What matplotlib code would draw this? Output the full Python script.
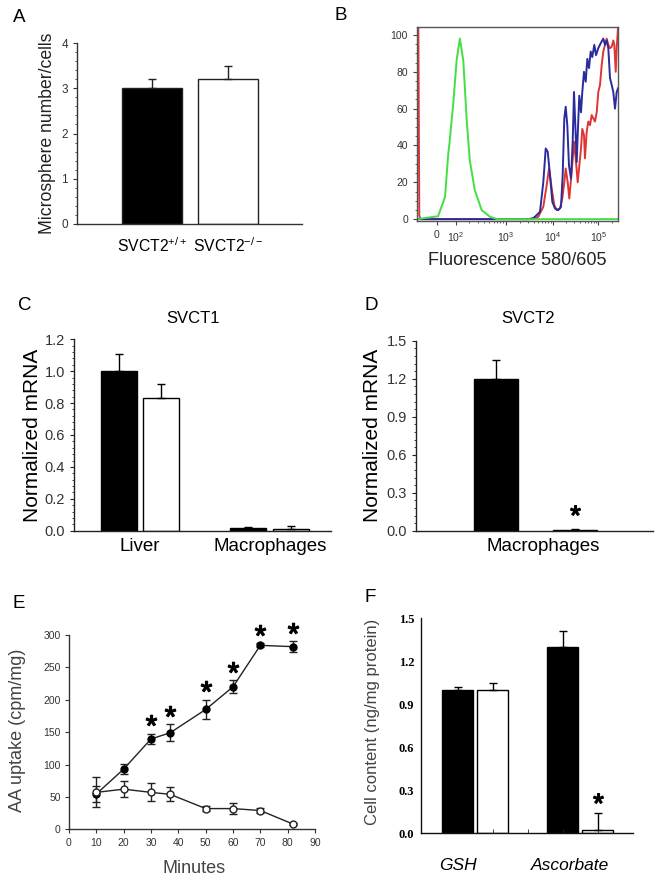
import numpy as np
import matplotlib
matplotlib.use('Agg')
import matplotlib.pyplot as plt
from matplotlib.ticker import AutoMinorLocator, FixedLocator, MultipleLocator

plt.rcParams['font.family'] = ['Liberation Sans', 'DejaVu Sans']
plt.rcParams['mathtext.default'] = 'regular'

# ---------------- data ----------------
# A
genotypes = ['SVCT2$^{+/+}$', 'SVCT2$^{-/-}$']
a_vals = [3.0, 3.2]
a_err = [0.2, 0.3]

# B  (flow histograms, fluorescence vs % max)
green_x = [-107, 5, 38, 54.8, 61, 83, 104, 125, 150, 177.6, 206, 260, 355, 510, 700, 262144]
green_y = [0, 1.6, 12, 35.7, 41, 63, 86.4, 98, 86, 54, 32, 15.8, 4.9, 1.3, 0, 0]
blue_x = [-107, 3000, 3800, 4217, 5383, 6324, 7112, 7834, 8770, 9817, 11230, 13270, 15210,
          16560, 17960, 19280, 20900, 22760, 25180, 27450, 29310, 31940, 33590, 35320, 38290,
          41760, 44570, 48550, 52950, 57410, 62520, 68100, 73810, 81660, 89110, 100000, 112450,
          127700, 138700, 150800, 163100, 177400, 192700, 208400, 226400, 246000, 262144]
blue_y = [0, 0, 0.5, 1.3, 4, 20, 38.4, 36.6, 24, 9.4, 5.8, 4.9, 6.7, 24, 54.7, 61, 51, 29, 22,
          42, 69, 45.6, 31, 45.6, 67, 58, 69, 80, 74.6, 87, 82, 91, 88, 94.6, 89, 92.8, 95.5, 98,
          94.6, 97, 92.8, 76.5, 72.8, 69, 60, 69, 71]
red_x = [-107, -98, -92, -85, 4000, 4955, 6324, 7464, 8350, 9528, 10840, 12240, 14450, 16240,
         17960, 19280, 21330, 23120, 26100, 29310, 31940, 35320, 38290, 41760, 44570, 48550,
         51000, 55670, 60370, 65770, 71620, 77680, 84690, 92230, 100000, 108700, 118100, 127700,
         138700, 150800, 163100, 177400, 192700, 208400, 218800, 234400, 246000, 262144]
red_y = [110, 105, 2, 0, 0, 1.3, 6.7, 18.5, 27.5, 16.7, 7.6, 4.9, 5.8, 11.2, 20, 27.5, 20, 11.2,
         25.7, 42, 33, 20, 29, 38.4, 49, 45.6, 33, 47.5, 53, 51, 56.5, 54.7, 53, 58, 69, 72.8,
         83.7, 91, 94.6, 98, 94.6, 92.8, 93.6, 97, 94.6, 80, 92.8, 104]
b_ticks = [0, 100, 1000, 10000, 100000]
b_ticklabels = ['0', '10$^2$', '10$^3$', '10$^4$', '10$^5$']

# C
c_groups = ['Liver', 'Macrophages']
c_wt = [1.0, 0.02]
c_ko = [0.83, 0.01]
c_wt_err = [0.11, 0.005]
c_ko_err = [0.09, 0.02]

# D
d_group = ['Macrophages']
d_vals = [1.2, 0.005]
d_err = [0.15, 0.006]

# E
minutes = [10, 20, 30, 37, 50, 60, 70, 82]
e_wt = [54.5, 93, 139.5, 149, 185, 220, 284, 282]
e_wt_err = [12, 8, 8, 13, 15, 10, 3, 8]
e_ko = [57, 62, 57, 54, 32, 32, 29, 8]
e_ko_err = [23, 12, 14, 11, 4, 8, 4, 2]
e_sig = [False, False, True, True, True, True, True, True]

# F
f_cats = ['GSH', 'Ascorbate']
f_wt = [1.0, 1.30]
f_ko = [1.0, 0.02]
f_wt_err = [0.02, 0.11]
f_ko_err = [0.05, 0.12]

# ---------------- figure ----------------
W, H = 662, 883
fig = plt.figure(figsize=(W / 100, H / 100), dpi=100)


def axpx(l, t, r, b):
    return fig.add_axes([l / W, 1 - b / H, (r - l) / W, (b - t) / H])


def simple_spines(ax, color='#222'):
    ax.spines['top'].set_visible(False)
    ax.spines['right'].set_visible(False)
    for s in ('left', 'bottom'):
        ax.spines[s].set_color(color)
        ax.spines[s].set_linewidth(1)


def letter(x, y, s):
    fig.text(x / W, 1 - y / H, s, fontsize=13.5, ha='left', va='center')


STAR = dict(marker='$*$', color='black', ls='none', clip_on=False)

# ---------- A ----------
axA = axpx(77, 43, 302, 224)
xa = np.arange(len(a_vals))
axA.bar(xa, a_vals, width=0.79, color=['black', 'white'], edgecolor='#222', linewidth=1)
axA.errorbar(xa, a_vals, yerr=[np.zeros(len(a_err)), a_err], fmt='none', ecolor='#222',
             elinewidth=1, capsize=3)
axA.set_xlim(-0.99, 1.97)
axA.set_ylim(0, 4)
simple_spines(axA, '#333')
axA.set_xticks(xa, genotypes, fontsize=11.3)
axA.tick_params(axis='x', length=0, pad=9)
axA.set_yticks([0, 1, 2, 3, 4])
axA.yaxis.set_minor_locator(AutoMinorLocator(5))
axA.tick_params(axis='y', labelsize=8.5, labelcolor='#333', length=3, color='#333')
axA.tick_params(axis='y', which='minor', length=1.5, color='#333')
axA.set_ylabel('Microsphere number/cells', fontsize=12.7, color='#222', va='center')
axA.yaxis.set_label_coords(-0.133, 0.5)
letter(13, 17, 'A')

# ---------- B ----------
_anch = np.array([-1e4, -107, 0, 100, 1e3, 1e4, 1e5, 262144, 1e7])
_U = np.arcsinh(_anch / 100)
_P = np.array([323, 417, 437, 456, 505.5, 552.7, 598.3, 618, 692], dtype=float)


def _fwd(x):
    return np.interp(np.arcsinh(np.asarray(x, dtype=float) / 100), _U, _P)


def _inv(p):
    return 100 * np.sinh(np.interp(np.asarray(p, dtype=float), _P, _U))


axB = axpx(417, 27, 618, 221)
axB.set_xscale('function', functions=(_fwd, _inv))
axB.plot(red_x, red_y, color='#e03535', lw=1.4)
axB.plot(blue_x, blue_y, color='#2b2b9e', lw=1.4)
axB.plot(green_x, green_y, color='#44dd44', lw=1.4)
axB.set_xlim(-107, 262144)
axB.set_ylim(-1, 104.3)
for s in axB.spines.values():
    s.set_color('#555')
    s.set_linewidth(1)
axB.set_xticks(b_ticks, b_ticklabels)
minor_b = [k * 10 ** n for n in (2, 3, 4) for k in range(2, 10)] + [200000]
axB.xaxis.set_minor_locator(FixedLocator(minor_b))
axB.set_yticks([0, 20, 40, 60, 80, 100])
axB.yaxis.set_minor_locator(MultipleLocator(5))
axB.tick_params(axis='both', labelsize=7.5, labelcolor='#333', length=3, color='#444', width=0.8)
axB.tick_params(axis='both', which='minor', length=1.5, color='#444')
axB.set_xlabel('Fluorescence 580/605', fontsize=13, color='#222', labelpad=6)
letter(334, 15, 'B')

# ---------- C ----------
axC = axpx(74, 339.3, 331, 530.7)
xc = np.arange(len(c_groups))
off, bw = 0.165, 0.277
axC.bar(xc - off, c_wt, width=bw, color='black', edgecolor='black', linewidth=1)
axC.bar(xc + off, c_ko, width=bw, color='white', edgecolor='black', linewidth=1)
axC.errorbar(xc - off, c_wt, yerr=[np.zeros(2), c_wt_err], fmt='none', ecolor='black',
             elinewidth=1, capsize=3)
axC.errorbar(xc + off, c_ko, yerr=[np.zeros(2), c_ko_err], fmt='none', ecolor='black',
             elinewidth=1, capsize=3)
axC.set_xlim(-0.508, 1.47)
axC.set_ylim(0, 1.2)
simple_spines(axC, '#222')
axC.set_xticks(xc, c_groups, fontsize=13.5)
axC.tick_params(axis='x', length=0, pad=5)
axC.set_yticks(np.arange(0, 1.21, 0.2))
axC.yaxis.set_major_formatter(matplotlib.ticker.FormatStrFormatter('%.1f'))
axC.yaxis.set_minor_locator(AutoMinorLocator(5))
axC.tick_params(axis='y', labelsize=10.5, labelcolor='#333', length=3, color='#222')
axC.tick_params(axis='y', which='minor', length=1.5, color='#222')
axC.set_ylabel('Normalized mRNA', fontsize=15, va='center')
axC.yaxis.set_label_coords(-0.16, 0.5)
axC.set_title('SVCT1', fontsize=12, x=0.463, pad=12)
letter(18, 305, 'C')

# ---------- D ----------
axD = axpx(416, 340.7, 652.7, 530.7)
xd = np.arange(len(d_vals))
axD.bar(xd, d_vals, width=0.557, color=['black', 'white'], edgecolor='black', linewidth=1)
axD.errorbar(xd, d_vals, yerr=[np.zeros(2), d_err], fmt='none', ecolor='black',
             elinewidth=1, capsize=3)
axD.plot([xd[1]], [0.16], ms=7, **STAR)
axD.set_xlim(-1.009, 1.987)
axD.set_ylim(0, 1.5)
simple_spines(axD, '#222')
axD.set_xticks([0.6], d_group, fontsize=13.5)
axD.tick_params(axis='x', length=0, pad=5)
axD.set_yticks(np.arange(0, 1.51, 0.3))
axD.yaxis.set_major_formatter(matplotlib.ticker.FormatStrFormatter('%.1f'))
axD.yaxis.set_minor_locator(AutoMinorLocator(5))
axD.tick_params(axis='y', labelsize=10.5, labelcolor='#333', length=3, color='#222')
axD.tick_params(axis='y', which='minor', length=1.5, color='#222')
axD.set_ylabel('Normalized mRNA', fontsize=15, va='center')
axD.yaxis.set_label_coords(-0.183, 0.5)
axD.set_title('SVCT2', fontsize=12, x=0.472, pad=13)
letter(364, 305, 'D')

# ---------- E ----------
axE = axpx(69, 635, 315, 829.3)
axE.errorbar(minutes, e_wt, yerr=e_wt_err, fmt='-o', color='#222', mfc='black', mec='black',
             ms=5, lw=1, elinewidth=1, capsize=3, zorder=3)
axE.errorbar(minutes, e_ko, yerr=e_ko_err, fmt='-o', color='#222', mfc='white', mec='#222',
             ms=5, lw=1, elinewidth=1, capsize=3, zorder=3)
sx = [m for m, s in zip(minutes, e_sig) if s]
sy = [v + e + 21 for v, e, s in zip(e_wt, e_wt_err, e_sig) if s]
axE.plot(sx, sy, ms=7.5, **STAR)
axE.set_xlim(0, 90)
axE.set_ylim(0, 300)
simple_spines(axE, '#333')
axE.set_xticks(np.arange(0, 91, 10))
axE.set_yticks(np.arange(0, 301, 50))
axE.tick_params(axis='both', labelsize=7.5, labelcolor='#333', length=3, color='#333', pad=3)
axE.set_xlabel('Minutes', fontsize=13, color='#444', va='center')
axE.xaxis.set_label_coords(0.51, -0.204)
axE.set_ylabel('AA uptake (cpm/mg)', fontsize=13, color='#444', va='center')
axE.yaxis.set_label_coords(-0.21, 0.51)
letter(13, 603, 'E')

# ---------- F ----------
axF = axpx(421, 618.3, 632.7, 833.3)
xf = np.array([0, 3])
axF.bar(xf, f_wt, width=0.9, color='black', edgecolor='black', linewidth=1)
axF.bar(xf + 1, f_ko, width=0.9, color='white', edgecolor='black', linewidth=1)
axF.errorbar(xf, f_wt, yerr=[np.zeros(2), f_wt_err], fmt='none', ecolor='black',
             elinewidth=1, capsize=3)
axF.errorbar(xf + 1, f_ko, yerr=[np.zeros(2), f_ko_err], fmt='none', ecolor='black',
             elinewidth=1, capsize=3)
axF.plot([xf[1] + 1], [0.244], ms=7, **STAR)
axF.set_xlim(-1.05, 5.0)
axF.set_ylim(0, 1.5)
simple_spines(axF, '#111')
axF.set_xticks([0, 3.2], f_cats, fontsize=12.5, fontstyle='italic')
axF.xaxis.set_minor_locator(FixedLocator([0, 1, 2, 3, 4]))
axF.tick_params(axis='x', which='major', length=0, pad=18)
axF.tick_params(axis='x', which='minor', direction='in', length=3, color='#222')
axF.set_yticks(np.arange(0, 1.51, 0.3))
axF.yaxis.set_major_formatter(matplotlib.ticker.FormatStrFormatter('%.1f'))
axF.tick_params(axis='y', length=0, pad=5)
for t in axF.get_yticklabels():
    t.set_fontfamily(['Liberation Serif', 'DejaVu Serif'])
    t.set_fontweight('bold')
    t.set_fontsize(9)
axF.set_ylabel('Cell content (ng/mg protein)', fontsize=12, color='#444', va='center')
axF.yaxis.set_label_coords(-0.228, 0.519)
letter(364, 598, 'F')

fig.savefig('out.png', dpi=100)
